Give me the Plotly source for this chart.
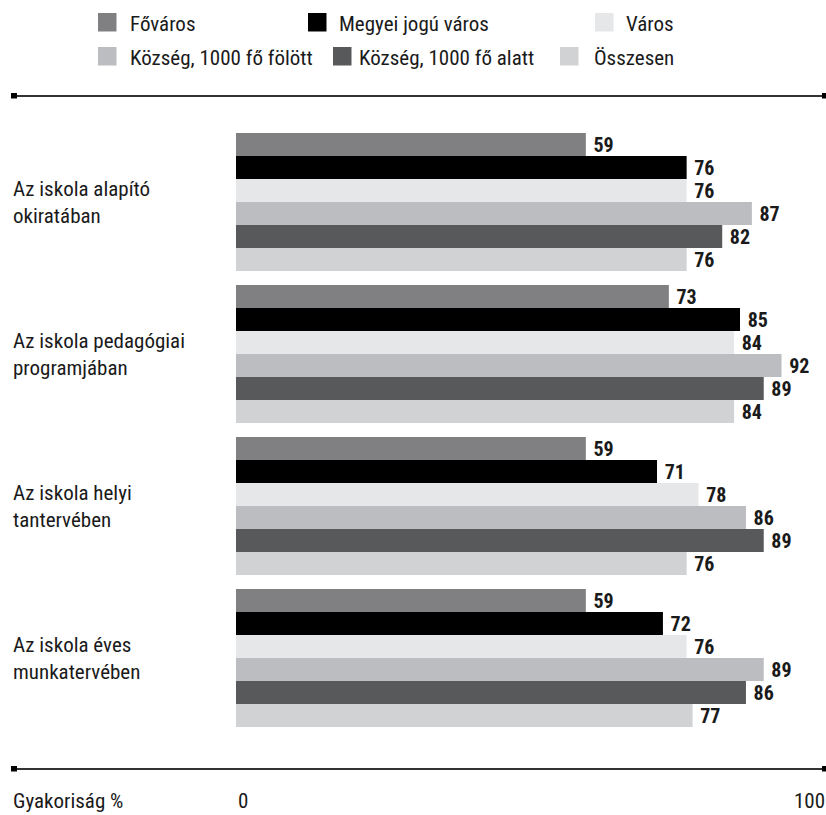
import plotly.graph_objects as go

# ---- data ----
categories = [
    "Az iskola alapító<br>okiratában",
    "Az iskola pedagógiai<br>programjában",
    "Az iskola helyi<br>tantervében",
    "Az iskola éves<br>munkatervében",
]
series_names = [
    "Főváros",
    "Megyei jogú város",
    "Város",
    "Község, 1000 fő fölött",
    "Község, 1000 fő alatt",
    "Összesen",
]
fovaros = [59, 73, 59, 59]
megyei = [76, 85, 71, 72]
varos = [76, 84, 78, 76]
kozseg_folott = [87, 92, 86, 89]
kozseg_alatt = [82, 89, 89, 86]
osszesen = [76, 84, 76, 77]
series_values = [fovaros, megyei, varos, kozseg_folott, kozseg_alatt, osszesen]
axis_title = "Gyakoriság %"
axis_min_label, axis_max_label = "0", "100"

colors = ["#808083", "#000000", "#e6e7e8", "#bcbdc0", "#58595b", "#d1d2d4"]

FONT = "Liberation Sans Narrow, Roboto Condensed, Arial Narrow, Liberation Sans, sans-serif"
TXT = "#1a1a1a"
W, H = 826, 815
ML, MT = 236, 126
MR, MB = 0, 81
PW, PH = W - ML - MR, H - MT - MB


def px(x):
    # page pixel -> paper
    return (x - ML) / PW


def py(y):
    return (H - MB - y) / PH


fig = go.Figure()
for name, vals, col in zip(series_names, series_values, colors):
    fig.add_trace(go.Bar(
        y=categories, x=vals, name=name, orientation="h",
        marker=dict(color=col, line=dict(width=0)),
        text=vals, texttemplate="\u00a0%{x}", textposition="outside",
        textfont=dict(family=FONT, size=20, color=TXT, weight="bold"),
        constraintext="none", cliponaxis=False, showlegend=False,
    ))

shapes = []
annotations = []

# legend (manual)
leg_pos = [(98, 13, 128), (308, 13, 337), (595, 13, 624),
           (98, 47, 128), (333, 47, 357), (560, 47, 592)]
for (sx, sy, tx), name, col in zip(leg_pos, series_names, colors):
    shapes.append(dict(type="rect", xref="paper", yref="paper",
                       x0=px(sx), x1=px(sx + 18.5), y0=py(sy), y1=py(sy + 18.5),
                       fillcolor=col, line=dict(width=0), layer="above"))
    annotations.append(dict(xref="paper", yref="paper", x=px(tx), y=py(sy + 11),
                            text=name, showarrow=False, xanchor="left", yanchor="middle",
                            font=dict(family=FONT, size=21, color=TXT)))

# horizontal rules with end squares
for ly in (96, 769):
    shapes.append(dict(type="line", xref="paper", yref="paper",
                       x0=px(16), x1=px(823), y0=py(ly), y1=py(ly),
                       line=dict(color="#333333", width=2)))
    shapes.append(dict(type="rect", xref="paper", yref="paper",
                       x0=px(11), x1=px(17), y0=py(ly - 3), y1=py(ly + 2.5),
                       fillcolor="#000000", line=dict(width=0)))
    shapes.append(dict(type="rect", xref="paper", yref="paper",
                       x0=px(822), x1=px(828), y0=py(ly - 3), y1=py(ly + 2.5),
                       fillcolor="#000000", line=dict(width=0)))

# category labels (left aligned)
for c in categories:
    annotations.append(dict(xref="paper", yref="y", x=px(11), y=c, text=c,
                            showarrow=False, xanchor="left", yanchor="middle", align="left",
                            font=dict(family=FONT, size=21, color=TXT)))

# bottom axis texts
annotations.append(dict(xref="paper", yref="paper", x=px(11), y=py(801), text=axis_title,
                        showarrow=False, xanchor="left", yanchor="middle",
                        font=dict(family=FONT, size=21, color=TXT)))
annotations.append(dict(xref="x", yref="paper", x=0, y=py(801), text=axis_min_label,
                        showarrow=False, xanchor="left", yanchor="middle",
                        font=dict(family=FONT, size=21, color=TXT)))
annotations.append(dict(xref="paper", yref="paper", x=px(827), y=py(801), text=axis_max_label,
                        showarrow=False, xanchor="right", yanchor="middle",
                        font=dict(family=FONT, size=21, color=TXT)))

fig.update_layout(
    width=W, height=H,
    margin=dict(l=ML, r=MR, t=MT, b=MB, pad=0),
    paper_bgcolor="white", plot_bgcolor="white",
    barmode="group", bargap=14 / 152, bargroupgap=0,
    xaxis=dict(range=[0, 99.5], showgrid=False, zeroline=False, showticklabels=False,
               showline=False, ticks=""),
    yaxis=dict(range=[3.5, -0.5], showgrid=False, zeroline=False, showticklabels=False,
               showline=False, ticks="", type="category"),
    shapes=shapes, annotations=annotations,
    font=dict(family=FONT, color=TXT),
)

fig.write_html("out.html", config={"displayModeBar": False},
               post_script="document.body.style.margin='0';document.body.style.overflow='hidden';")
